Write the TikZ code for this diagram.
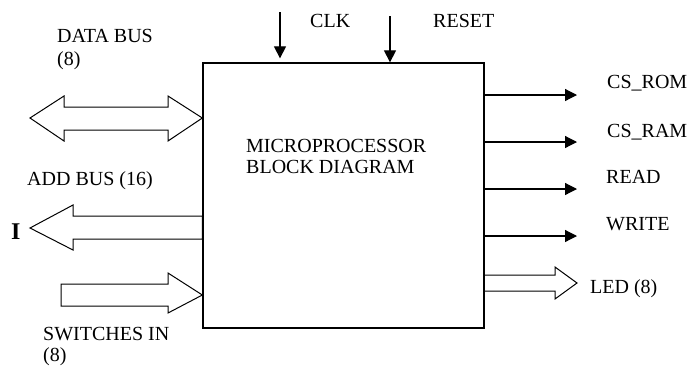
\documentclass[tikz,border=0pt]{standalone}
\usepackage{fontspec}
\setmainfont{Liberation Serif}
\usetikzlibrary{arrows.meta,calc,positioning}

\begin{document}
\begin{tikzpicture}[
  x=1pt, y=-1pt,
  lbl/.style={font=\fontsize{20}{22}\selectfont, inner sep=0pt, anchor=base west},
  sig/.style={-{Triangle[length=12pt,width=12pt]}, line width=1.2pt},
  bus/.style={draw, line width=1pt, line join=miter}
]
\useasboundingbox (0,0) rectangle (691,368);
\node[draw, line width=1.3pt, minimum width=281pt, minimum height=265pt, inner sep=0pt] (cpu) at (343.5,195.5) {};
\node[lbl] (title1) at (246,152) {MICROPROCESSOR};
\node[lbl] (title2) at (246,173) {BLOCK DIAGRAM};

% inputs on top
\coordinate (clk) at (280,12);
\coordinate (rst) at (390,16);
\draw[sig, shorten >=4pt] (clk) -- (clk |- cpu.north);
\draw[sig] (rst) -- (rst |- cpu.north);
\node[lbl] (clklbl) at (310,27) {CLK};
\node[lbl] (rstlbl) at (433,27) {RESET};

% buses on the left
\coordinate (dbtip) at (30,118);
\draw[bus] (dbtip) -- (64,96) -- (64,107) -- (168,107) -- (168,96) -- (cpu.west |- dbtip)
  -- (168,141) -- (168,130) -- (64,130) -- (64,141) -- cycle;
\node[lbl] (dblbl) at (57,42) {DATA BUS};
\node[lbl] (dbnum) at (57,65) {(8)};

\coordinate (abtip) at (30,228);
\draw[bus] (abtip) -- (73,205) -- (73,216) -- (cpu.west |- 0,216)
  -- (cpu.west |- 0,239) -- (73,239) -- (73,250) -- cycle;
\node[lbl] (ablbl) at (27,185) {ADD BUS (16)};
\node[lbl, font=\fontsize{24}{26}\selectfont\bfseries] (abend) at (11,239) {I};

\coordinate (swtail) at (61,284);
\draw[bus] (swtail) -- (168,284) -- (168,273) -- (cpu.west |- 0,295)
  -- (168,313) -- (168,306) -- (61,306) -- cycle;
\node[lbl] (swlbl) at (43,340) {SWITCHES IN};
\node[lbl] (swnum) at (43,361) {(8)};

% outputs on the right
\coordinate (csrom) at (577,95);
\coordinate (csram) at (577,142);
\coordinate (rd) at (577,189);
\coordinate (wr) at (577,236);
\draw[sig] (cpu.east |- csrom) -- (csrom);
\draw[sig] (cpu.east |- csram) -- (csram);
\draw[sig] (cpu.east |- rd) -- (rd);
\draw[sig] (cpu.east |- wr) -- (wr);
\node[lbl] (csromlbl) at (607,88) {CS\_ROM};
\node[lbl] (csramlbl) at (607,137) {CS\_RAM};
\node[lbl] (rdlbl) at (606,183) {READ};
\node[lbl] (wrlbl) at (606,230) {WRITE};

\coordinate (ledtip) at (577,283);
\draw[bus] (cpu.east |- 0,275) -- (555,275) -- (555,267) -- (ledtip)
  -- (555,299) -- (555,291) -- (cpu.east |- 0,291);
\node[lbl] (ledlbl) at (590,293) {LED (8)};
\end{tikzpicture}
\end{document}
